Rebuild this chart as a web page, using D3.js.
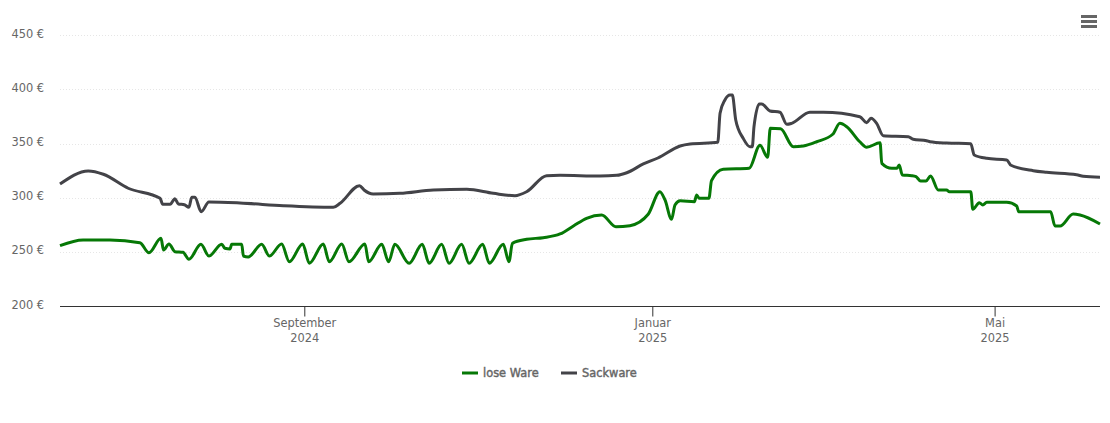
<!DOCTYPE html>
<html lang="de">
<head>
<meta charset="utf-8">
<title>Preisverlauf</title>
<script src="https://cdn.jsdelivr.net/npm/d3@7/dist/d3.min.js"></script>
<style>
  html, body { margin: 0; padding: 0; background: #fff; }
  svg { display: block; }
  .axis text { fill: #666; font-family: "DejaVu Sans", sans-serif; font-size: 11.4px; }
  .grid line { stroke: #e6e6e6; stroke-dasharray: 1 2; }
  .legend text { fill: #666; stroke: #666; stroke-width: 0.4px; font-family: "DejaVu Sans", sans-serif; font-size: 11.4px; }
</style>
</head>
<body>
<svg id="chart" width="1110" height="423"></svg>
<script>
// Days since the first point of the series (7 June 2024)
const START_DATE = new Date(2024, 5, 7);

const loseDays = [
  0, 8.1, 17.5, 28, 31.2, 35.4, 36.3, 38.2, 40.3, 43.1, 45.2, 49.4, 52.2, 56.7, 57.8, 59.6, 60.2, 63.7, 64.3, 66,
  70.7, 73.4, 77.7, 80.4, 85.1, 87.4, 92.3, 94.4, 98.8, 101.3, 106.9, 108.2, 112.8, 115.2, 117.4, 122.4, 127, 129.4,
  133.8, 136.4, 140.8, 143.4, 148.2, 150.5, 155.4, 157.4, 158.6, 163.6, 169.4, 175.3, 180, 184.6, 189.9, 194.9, 199.8,
  206.2, 210.3, 212.1, 214.4, 215.6, 217.4, 222.4, 223.2, 224.1, 227.5, 228.4, 232.5, 241.6, 245.4, 248.1, 249, 252.6,
  257.1, 260.6, 265.3, 270.9, 273.4, 275.8, 280.4, 282.8, 287.5, 288.1, 291.6, 293.4, 294.2, 295.3, 298.6, 300.1,
  301.7, 303.6, 305.2, 307.9, 310.8, 311.8, 319.3, 320, 322.3, 323.5, 324.9, 331.9, 335.4, 336.1, 347.3, 348.8, 350.6,
  355.2, 357.6, 364.6
];
const losePrices = [
  255.9, 261.2, 261.2, 258.7, 249.4, 262.7, 251.9, 257.5, 250.4, 249.8, 243.4, 257.2, 246.4, 257.2, 253.5, 252.9, 257.2, 257.2, 246.4, 245.5,
  257.2, 246.4, 257.5, 241.1, 257.5, 239.7, 257.5, 241.1, 257.5, 241.1, 257.5, 241.1, 257.2, 241.1, 257.2, 239.7, 257.2, 239.7,
  257.2, 239.7, 257.2, 239.7, 257.2, 239.7, 257.2, 241.1, 258.1, 261.8, 263.3, 266.7, 274.1, 281.2, 284.2, 273.4, 274.4,
  284.9, 305.7, 298.1, 280.3, 293.5, 297.4, 296.5, 302.7, 299.6, 299.6, 315.9, 326.4, 327.3, 348.5, 337.5, 364.2, 363.8,
  347.2, 347.9, 351.8, 358.7, 368.8, 365.7, 351.8, 346.7, 350.9, 331.9, 327.3, 327.3, 330.4, 321.1, 320.5, 319.6,
  315.6, 315.6, 320.2, 307.3, 307.3, 305.7, 305.7, 289.5, 295.6, 293.5, 295.9, 295.9, 292.5, 287.3, 287.3, 274.1, 274.1,
  285.1, 284.2, 275.9
];

const sackDays = [
  0, 9.9, 15.2, 23.9, 35.1, 36, 38.6, 40.3, 41.5, 43.6, 45.2, 46.2, 47.3, 49.5, 52.2, 63.1, 78.3, 95.8, 98.2, 105,
  106.6, 109.8, 119.2, 130.9, 142.6, 151.9, 159.5, 163.6, 170.6, 175.3, 189.3, 195.2, 198.7, 204.5, 209.6, 217.4, 220.9,
  230.6, 231.4, 233.1, 234.9, 235.7, 236.9, 239.5, 241.9, 242.7, 243.3, 245.2, 246, 248.9, 252.4, 254.8, 256.5, 262.9,
  267.6, 280.4, 282.8, 284.3, 286.3, 288.6, 297.4, 299.1, 303.8, 305, 310.8, 319.3, 320.5, 324.9, 331.9, 333.4, 341.2,
  345.9, 356.4, 358.7, 364.6
];
const sackPrices = [
  312.8, 324.8, 321.8, 308.9, 299.6, 294.1, 294.1, 299.3, 294.4, 293.7, 291.3, 300.6, 300.6, 287.3, 296.2, 295.3, 292.8, 291.3, 295, 311.3,
  307.3, 303.6, 304.2, 307.3, 307.9, 304.2, 302, 305.7, 320.5, 320.8, 320.2, 320.8, 323.2, 331.3, 336.8, 347.9, 349.7,
  351.3, 378, 390.3, 394.9, 394.9, 371.9, 355, 347.2, 347.2, 365.7, 386.6, 386.6, 380.2, 379, 367.9, 368.8, 379,
  379, 374.9, 369.4, 373.4, 368.8, 357.4, 356.5, 354.1, 352.8, 351.8, 350.6, 350, 339.6, 336.5, 335, 330.1, 325.1,
  323.6, 321.4, 319.9, 319
];

const seriesNames = ['lose Ware', 'Sackware'];
const seriesColors = ['#067806', '#434348'];
const yTicks = [200, 250, 300, 350, 400, 450];
const xTicks = [new Date(2024, 8, 1), new Date(2025, 0, 1), new Date(2025, 4, 1)];
const xTickLabels = [['September', '2024'], ['Januar', '2025'], ['Mai', '2025']];

const toDate = d => new Date(START_DATE.getTime() + d * 864e5);

const svg = d3.select('#chart');

const x = d3.scaleTime()
  .domain([START_DATE, toDate(364.6)])
  .range([60, 1100]);
const y = d3.scaleLinear()
  .domain([200, 450])
  .range([306.3, 35.3]);

// Grid
svg.append('g').attr('class', 'grid')
  .selectAll('line')
  .data(yTicks.filter(t => t !== 200))
  .join('line')
  .attr('x1', 60).attr('x2', 1100)
  .attr('y1', d => Math.round(y(d)) + 0.5).attr('y2', d => Math.round(y(d)) + 0.5);

// Y axis, labels only
const yAxis = svg.append('g').attr('class', 'axis')
  .attr('transform', 'translate(44,-0.5)')
  .call(d3.axisLeft(y).tickValues(yTicks).tickSize(0).tickPadding(0).tickFormat(d => d + ' €'));
yAxis.select('.domain').remove();
yAxis.selectAll('text').attr('dy', '0.2em');

// X axis
const xAxis = svg.append('g').attr('class', 'axis')
  .attr('transform', 'translate(-1,306.5)')
  .call(d3.axisBottom(x).tickValues(xTicks).tickSize(10).tickSizeOuter(0).tickFormat(''));
xAxis.select('.domain').attr('stroke', '#333').attr('d', 'M61,0H1101');
xAxis.selectAll('.tick line').attr('stroke', '#333');
xAxis.selectAll('.tick text').each(function (d, i) {
  const label = d3.select(this).attr('y', 0).attr('dy', null);
  xTickLabels[i].forEach((part, k) => {
    label.append('tspan').attr('x', 0).attr('y', 20 + k * 15).text(part);
  });
});

// Lines
const line = d3.line()
  .x(d => x(toDate(d[0])))
  .y(d => y(d[1]))
  .curve(d3.curveMonotoneX);

svg.append('g').selectAll('path')
  .data([d3.zip(loseDays, losePrices), d3.zip(sackDays, sackPrices)])
  .join('path')
  .attr('d', line)
  .attr('fill', 'none')
  .attr('stroke', (d, i) => seriesColors[i])
  .attr('stroke-width', 3)
  .attr('stroke-linejoin', 'round');

// Legend
const legendX = [462, 561];
const legend = svg.append('g').attr('class', 'legend')
  .selectAll('g')
  .data(seriesNames)
  .join('g')
  .attr('transform', (d, i) => `translate(${legendX[i]},373)`);
legend.append('line')
  .attr('x1', 0).attr('x2', 16)
  .attr('stroke', (d, i) => seriesColors[i])
  .attr('stroke-width', 3);
legend.append('text')
  .attr('x', 21).attr('y', 4)
  .text(d => d);

// Menu icon
svg.append('g').selectAll('rect')
  .data([0, 1, 2])
  .join('rect')
  .attr('x', 1081).attr('y', d => 15 + d * 5)
  .attr('width', 16).attr('height', 3)
  .attr('fill', '#666');
</script>
</body>
</html>
